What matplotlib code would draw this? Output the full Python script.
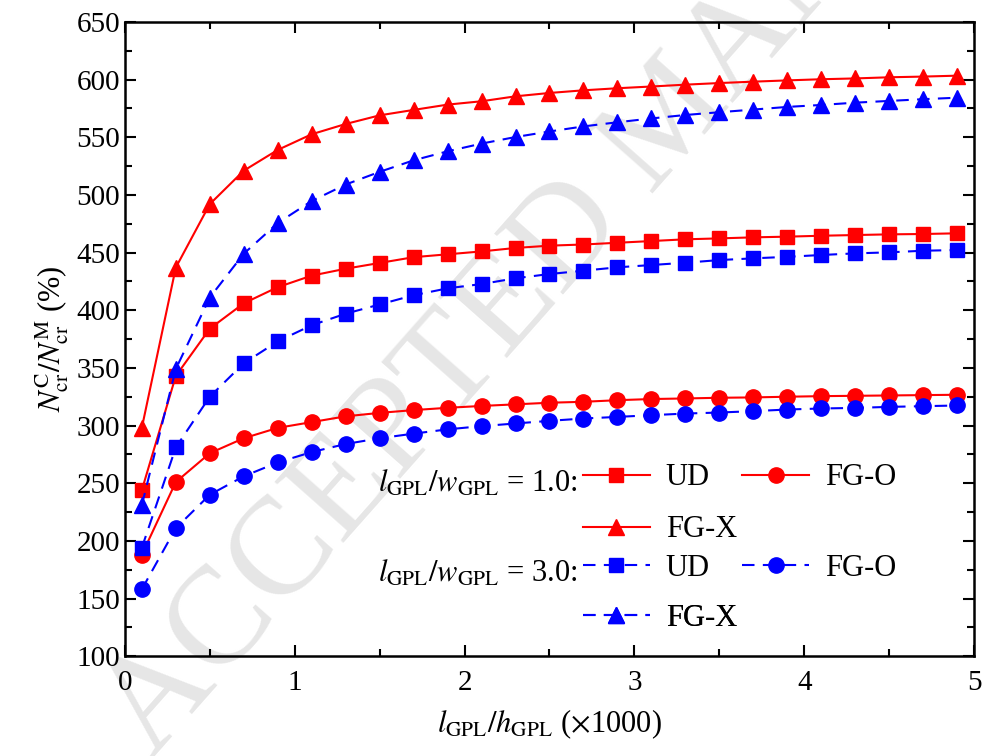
import numpy as np
import matplotlib
matplotlib.use('Agg')
import matplotlib.pyplot as plt
from matplotlib.ticker import MultipleLocator

plt.rcParams['font.family'] = ['Liberation Serif', 'DejaVu Serif']
plt.rcParams['mathtext.fontset'] = 'stix'

x = [0.1, 0.3, 0.5, 0.7, 0.9, 1.1, 1.3, 1.5, 1.7, 1.9, 2.1, 2.3, 2.5,
     2.7, 2.9, 3.1, 3.3, 3.5, 3.7, 3.9, 4.1, 4.3, 4.5, 4.7, 4.9]

# l/w = 1.0
ud_1 = [244, 343, 384, 406, 420, 430, 436, 441, 446, 448.5, 451, 454, 456,
        457, 458.5, 460, 461.5, 462.3, 463.2, 463.8, 464.6, 465.2, 465.8, 466.1, 466.7]
fgo_1 = [188, 251, 276, 289, 298, 303, 308, 311, 313.4, 315.4, 317, 318.4, 319.8,
         320.6, 322, 323, 323.5, 324.1, 324.4, 325, 325.5, 325.8, 326.1, 326.4, 326.7]
fgx_1 = [298, 437, 492, 521, 539, 552.6, 561.5, 569, 573.7, 578.3, 581.2, 585.5, 588.4,
         590.7, 592.5, 594, 595.6, 597, 598.2, 599.3, 600.3, 601, 602, 602.6, 603.4]

# l/w = 3.0
ud_3 = [194, 281, 325, 354, 373, 387, 397, 405, 413, 419, 422.7, 427.7, 431.4,
        434.3, 437.2, 439.2, 441.2, 443.5, 445, 446.3, 447.9, 449.3, 450.2, 451.6, 452.2]
fgo_3 = [158, 211, 240, 256, 268, 277, 284, 289, 293, 296.7, 299.5, 301.8, 304.1,
         306.1, 307.5, 309, 310.4, 311.3, 312.5, 313.9, 314.8, 315.3, 316.2, 316.8, 317.4]
fgx_3 = [231, 349, 411, 449, 475.6, 494.7, 509, 520, 530, 537.8, 544.5, 550.2, 555,
         559.4, 563, 566.3, 569.3, 571.7, 574, 576.3, 578, 580, 581.5, 583, 584.3]

fig = plt.figure(figsize=(9.83, 7.56), dpi=100)
ax = fig.add_axes([0.127, 0.132, 0.864, 0.839])
ax.set_facecolor('none')

# watermark, drawn behind the axes
fig.text(0.155, -0.005, 'ACCEPTED MANUSCRIPT', fontsize=100, color='#e6e6e6',
         rotation=48.5, rotation_mode='anchor', ha='left', va='baseline', zorder=-10)

red = dict(color='red', lw=1.5, ls='-')
blue = dict(color='blue', lw=1.5, ls=(0, (6, 4)))
ms = 10

l1, = ax.plot(x, ud_1, marker='s', ms=ms, **red)
l2, = ax.plot(x, fgo_1, marker='o', ms=ms + 1, **red)
l3, = ax.plot(x, fgx_1, marker='^', ms=ms + 2, **red)
b1, = ax.plot(x, ud_3, marker='s', ms=ms, **blue)
b2, = ax.plot(x, fgo_3, marker='o', ms=ms + 1, **blue)
b3, = ax.plot(x, fgx_3, marker='^', ms=ms + 2, **blue)

ax.set_xlim(0, 5)
ax.set_ylim(100, 650)
ax.xaxis.set_major_locator(MultipleLocator(1))
ax.xaxis.set_minor_locator(MultipleLocator(0.5))
ax.yaxis.set_major_locator(MultipleLocator(50))
ax.yaxis.set_minor_locator(MultipleLocator(25))
ax.tick_params(which='both', direction='in', top=True, right=True, width=1.5, labelsize=21)
ax.tick_params(which='major', length=8)
ax.tick_params(which='minor', length=5)
ax.tick_params(axis='x', pad=10)
for s in ax.spines.values():
    s.set_linewidth(1.8)

ax.set_xlabel(r'$l_{\rm GPL}/h_{\rm GPL}$ ($\times$1000)', fontsize=22, labelpad=8)
ax.set_ylabel(r'$N_{\rm cr}^{\rm C}/N_{\rm cr}^{\rm M}$ (%)', fontsize=22, labelpad=4)

# one legend per row, so FG-X can sit under UD without a grid
leg_kw = dict(frameon=False, fontsize=22, handlelength=2.2, handletextpad=0.52,
              columnspacing=1.05, borderpad=0, borderaxespad=0, loc='center left')
rows = [([l1, l2], ['UD', 'FG-O'], 0.281),
        ([l3], ['FG-X'], 0.199),
        ([b1, b2], ['UD', 'FG-O'], 0.139),
        ([b3], ['FG-X'], 0.060)]
for hs, labs, yy in rows:
    lg = ax.legend(hs, labs, ncol=len(hs), bbox_to_anchor=(0.539, yy), **leg_kw)
    ax.add_artist(lg)

ax.text(0.533, 0.272, r'$l_{\rm GPL}/w_{\rm GPL}$ = 1.0:', transform=ax.transAxes,
        ha='right', va='center', fontsize=22)
ax.text(0.533, 0.130, r'$l_{\rm GPL}/w_{\rm GPL}$ = 3.0:', transform=ax.transAxes,
        ha='right', va='center', fontsize=22)

fig.savefig('out.png', dpi=100)
